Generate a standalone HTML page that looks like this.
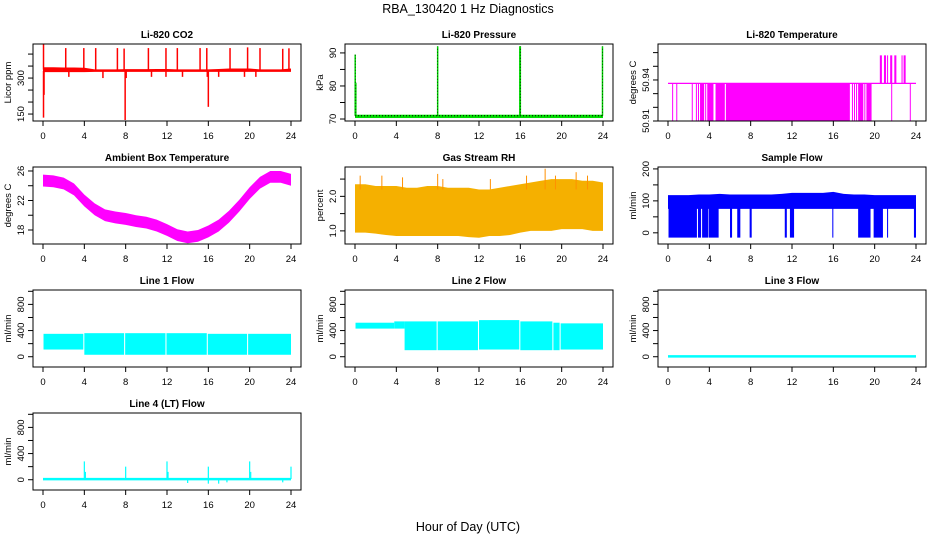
<!DOCTYPE html>
<html><head><meta charset="utf-8"><style>
html,body{margin:0;padding:0;background:#fff;}
svg{display:block;font-family:"Liberation Sans",sans-serif;}
</style></head><body>
<svg id="c" width="936" height="540" viewBox="0 0 936 540">
<text x="468" y="13" text-anchor="middle" font-size="12.5">RBA_130420  1 Hz Diagnostics</text>
<text x="468" y="531" text-anchor="middle" font-size="12.5">Hour of Day (UTC)</text>
</svg>
<script>
// ---------- data ----------
const hours = [0,1,2,3,4,5,6,7,8,9,10,11,12,13,14,15,16,17,18,19,20,21,22,23,24];
const xTicks = [0,4,8,12,16,20,24];
// CO2
const co2Low  = [325,325,325,325,325,326,326,326,326,326,326,326,326,326,326,326,326,326,326,326,326,326,326,326,326];
const co2High = [345,345,344,344,343,336,336,336,337,337,337,338,338,336,336,336,336,338,340,340,340,336,336,336,340];
const co2SpikeHours = [0.05,2.2,3.95,5.1,7.2,7.85,10.2,11.9,13.0,15.2,15.85,18.1,19.8,21.0,23.2,23.8];
const co2SpikeVals  = [440,425,425,425,425,423,425,425,425,425,425,425,428,425,422,424];
const co2DownHours = [0.05,0.1,2.5,5.8,7.95,8.05,10.5,11.9,13.5,15.9,16.0,17.0,19.5,20.6];
const co2DownVals  = [135,230,305,300,125,300,305,305,305,305,180,305,305,305];
// Pressure
const presBase = 71.0;
const presSpikeHours = [0.02,0.08,8.0,15.95,16.0,23.95];
const presSpikeVals  = [89.5,81,92,92,92,92];
// Li-820 temperature
const tempBase = 50.9375;
const tempLowVal = 50.91;
const tempHighVal = 50.958;
const tempDownStart = [0.4,0.8,2.3,2.7,2.9,3.1,3.6,3.8,4.6,5.6,17.8,18.0,18.2,18.4,19.0,19.2,21.6,23.4];
const tempDownEnd   = [0.45,0.85,2.35,2.75,3.0,3.5,3.65,4.4,5.5,17.6,17.85,18.05,18.25,18.9,19.05,19.7,21.65,23.45];
const tempUpStart = [20.5,20.9,21.2,21.5,21.9,22.6,22.8];
const tempUpEnd   = [20.7,21.1,21.3,21.7,22.1,22.7,23.0];
// Ambient box temperature (centre of band)
const ambCenter = [24.7,24.6,24.3,23.5,22.0,20.8,20.0,19.7,19.5,19.2,19.0,18.6,18.0,17.3,17.0,17.2,17.8,18.6,19.8,21.3,23.0,24.4,25.2,25.2,24.8];
const ambHalf = 0.8;
// Gas stream RH
const rhLow  = [0.95,0.95,0.92,0.88,0.85,0.85,0.85,0.85,0.85,0.85,0.85,0.82,0.80,0.85,0.85,0.88,0.95,1.00,1.00,1.00,1.05,1.05,1.05,1.00,1.00];
const rhHigh = [2.35,2.35,2.30,2.30,2.30,2.25,2.25,2.30,2.30,2.25,2.25,2.25,2.20,2.20,2.25,2.30,2.35,2.40,2.45,2.50,2.50,2.50,2.45,2.45,2.40];
const rhSpikeHours = [0.5,2.6,4.6,8.0,8.5,13.1,16.6,18.4,19.4,21.4,22.5];
const rhSpikeVals  = [2.6,2.6,2.55,2.65,2.5,2.5,2.6,2.8,2.6,2.7,2.6];
// Sample flow
const sfLow  = [75,75,75,75,75,75,75,75,75,75,75,75,75,75,75,75,75,75,75,75,75,75,75,75,75];
const sfHigh = [118,118,118,120,120,122,120,120,120,120,120,122,125,125,125,125,128,122,120,120,118,118,118,118,118];
const sfDropStart = [0.05,2.9,3.3,3.95,6.0,6.7,7.9,11.3,11.8,15.9,18.4,19.9,21.2,23.8];
const sfDropEnd   = [2.8,3.2,3.9,4.9,6.2,7.0,8.1,11.5,12.2,16.0,19.6,20.8,21.3,24.0];
const sfDropVal = -15;
// Line 1 flow
const l1Start = [0.05,4.0,7.95,11.95,15.95,19.85];
const l1End   = [3.9,7.85,11.85,15.85,19.75,24.0];
const l1Low   = [110,30,30,30,30,30];
const l1High  = [350,360,360,360,350,350];
// Line 2 flow
const l2Start = [0.05,3.8,4.8,8.0,12.0,16.0,19.2,19.9];
const l2End   = [3.8,4.8,7.9,11.9,15.9,19.1,19.8,24.0];
const l2Low   = [430,430,100,100,110,100,100,110];
const l2High  = [520,540,540,540,560,540,520,510];
// Line 3 flow
const l3Base = 5;
// Line 4 flow
const l4Base = 10;
const l4SpikeHours = [4.0,4.1,8.0,12.0,12.1,16.0,20.0,20.1,24.0];
const l4SpikeVals  = [280,120,200,280,120,200,280,120,200];
const l4DownHours = [14.0,16.0,17.0,17.8,23.2];
const l4DownVals  = [-50,-60,-60,-40,-40];

// ---------- layout ----------
const NS = "http://www.w3.org/2000/svg";
const svg = document.getElementById('c');
const colLeft = [33,345,658];
const rowTop = [44,167,290,413];
const boxW = 268, boxH = 77;
function mk(tag, attrs, parent){
  const e = document.createElementNS(NS, tag);
  for (const k in attrs) e.setAttribute(k, attrs[k]);
  (parent||svg).appendChild(e);
  return e;
}
function panel(name, title, ylab, col, row, ymin, ymax, yticks, ylabels){
  const L = colLeft[col], T = rowTop[row];
  const g = mk('g', {});
  
  
  const xs = h => L + 10 + h * (boxW - 20) / 24;
  const ys = v => T + boxH - (v - ymin) / (ymax - ymin) * boxH;
  const marks = mk('g', {}, g);
  const cid = 'clip-' + name;
  const cp = mk('clipPath', {id:cid}, g);
  mk('rect', {x:L, y:T, width:boxW, height:boxH}, cp);
  marks.setAttribute('clip-path', 'url(#' + cid + ')');
  
  
  const fr = mk('rect', {x:L, y:T, width:boxW, height:boxH, fill:'none', stroke:'#000', 'stroke-width':1}, g);
  
  
  const tt = mk('text', {x:L + boxW/2, y:T - 6, 'text-anchor':'middle', 'font-size':10, 'font-weight':'bold'}, g);
  tt.textContent = title;
  
  
  const xa = mk('g', {}, g);
  
  
  mk('line', {x1:xs(0), x2:xs(24), y1:T+boxH, y2:T+boxH, stroke:'#000'}, xa);
  xTicks.forEach(t => {
    mk('line', {x1:xs(t), x2:xs(t), y1:T+boxH, y2:T+boxH+5, stroke:'#000'}, xa);
    const tx = mk('text', {x:xs(t), y:T+boxH+18, 'text-anchor':'middle', 'font-size':9.5}, xa);
    tx.textContent = t;
    
    
  });
  const ya = mk('g', {}, g);
  
  
  mk('line', {x1:L, x2:L, y1:ys(yticks[0]), y2:ys(yticks[yticks.length-1]), stroke:'#000'}, ya);
  yticks.forEach(t => {
    mk('line', {x1:L-5, x2:L, y1:ys(t), y2:ys(t), stroke:'#000'}, ya);
  });
  ylabels.forEach(t => {
    const tx = mk('text', {x:0, y:0, 'text-anchor':'middle', 'font-size':9.5, transform:'translate(' + (L-9) + ',' + ys(t) + ') rotate(-90)'}, ya);
    tx.textContent = t;
    
    
  });
  const yl = mk('text', {x:0, y:0, 'text-anchor':'middle', 'font-size':9.5, transform:'translate(' + (L-22) + ',' + (T+boxH/2) + ') rotate(-90)'}, g);
  yl.textContent = ylab;
  
  
  return {marks, xs, ys};
}
function vline(p, h, v1, v2, color, w){
  return mk('line', {x1:p.xs(h), x2:p.xs(h), y1:p.ys(v1), y2:p.ys(v2), stroke:color, 'stroke-width':w||1}, p.marks);
}
function band(p, lows, highs, color){
  let d = '';
  hours.forEach((h,i) => { d += (i ? 'L' : 'M') + p.xs(h) + ' ' + p.ys(highs[i]); });
  for (let i = hours.length-1; i >= 0; i--) d += 'L' + p.xs(hours[i]) + ' ' + p.ys(lows[i]);
  return mk('path', {d:d + 'Z', fill:color}, p.marks);
}
function blocks(p, starts, ends, lows, highs, color){
  starts.forEach((s,i) => {
    const lo = Array.isArray(lows) ? lows[i] : lows, hi = Array.isArray(highs) ? highs[i] : highs;
    mk('rect', {x:p.xs(s), y:p.ys(hi), width:Math.max(1, p.xs(ends[i]) - p.xs(s)), height:p.ys(lo) - p.ys(hi), fill:color}, p.marks);
  });
}

// ---------- panels ----------
let p = panel('co2-panel', 'Li-820 CO2', 'Licor ppm', 0, 0, 121, 442, [150,200,250,300,350,400], [150,300]);
band(p, co2Low, co2High, '#ff0000');
co2SpikeHours.forEach((h,i) => vline(p, h, 335, co2SpikeVals[i], '#ff0000', 1.5));
co2DownHours.forEach((h,i) => vline(p, h, 330, co2DownVals[i], '#ff0000', 1.5));

p = panel('pressure-panel', 'Li-820 Pressure', 'kPa', 1, 0, 69.4, 92.7, [70,75,80,85,90], [70,80,90]);
mk('rect', {x:p.xs(0), y:p.ys(presBase+0.3), width:p.xs(24)-p.xs(0), height:p.ys(presBase-0.7)-p.ys(presBase+0.3), fill:'#00dd00'}, p.marks);
mk('line', {x1:p.xs(0), x2:p.xs(24), y1:p.ys(presBase), y2:p.ys(presBase), stroke:'#000', 'stroke-dasharray':'1 2'}, p.marks);
presSpikeHours.forEach((h,i) => {
  vline(p, h, presBase, presSpikeVals[i], '#00dd00', 1.5);
  mk('line', {x1:p.xs(h), x2:p.xs(h), y1:p.ys(presBase), y2:p.ys(presSpikeVals[i]), stroke:'#000', 'stroke-width':0.7, 'stroke-dasharray':'1 2'}, p.marks);
});

p = panel('temperature-panel', 'Li-820 Temperature', 'degrees C', 2, 0, 50.91, 50.9663, [50.91,50.92,50.93,50.94,50.95,50.96], ['50.91','50.94']);
blocks(p, tempDownStart, tempDownEnd, tempLowVal, tempBase, '#ff00ff');
blocks(p, tempUpStart, tempUpEnd, tempBase, tempHighVal, '#ff00ff');
mk('line', {x1:p.xs(0), x2:p.xs(24), y1:p.ys(tempBase), y2:p.ys(tempBase), stroke:'#ff00ff', 'stroke-width':1.2}, p.marks);

p = panel('ambient-temp-panel', 'Ambient Box Temperature', 'degrees C', 0, 1, 16.1, 26.54, [18,20,22,24,26], [18,22,26]);
band(p, ambCenter.map(v => v - ambHalf), ambCenter.map(v => v + ambHalf), '#ff00ff');

p = panel('gas-rh-panel', 'Gas Stream RH', 'percent', 1, 1, 0.62, 2.85, [1.0,1.5,2.0,2.5], ['1.0','2.0']);
band(p, rhLow, rhHigh, '#f5b000');
rhSpikeHours.forEach((h,i) => vline(p, h, 2.2, rhSpikeVals[i], '#ff9000', 1));

p = panel('sample-flow-panel', 'Sample Flow', 'ml/min', 2, 1, -35, 206, [0,50,100,150,200], [0,100,200]);
band(p, sfLow, sfHigh, '#0000ff');
blocks(p, sfDropStart, sfDropEnd, sfDropVal, 80, '#0000ff');

const flowTicks = [0,200,400,600,800,1000];
p = panel('line1-flow-panel', 'Line 1 Flow', 'ml/min', 0, 2, -157, 1020, flowTicks, [0,400,800]);
blocks(p, l1Start, l1End, l1Low, l1High, '#00ffff');

p = panel('line2-flow-panel', 'Line 2 Flow', 'ml/min', 1, 2, -157, 1020, flowTicks, [0,400,800]);
blocks(p, l2Start, l2End, l2Low, l2High, '#00ffff');

p = panel('line3-flow-panel', 'Line 3 Flow', 'ml/min', 2, 2, -157, 1020, flowTicks, [0,400,800]);
mk('line', {x1:p.xs(0), x2:p.xs(24), y1:p.ys(l3Base), y2:p.ys(l3Base), stroke:'#00ffff', 'stroke-width':2.5}, p.marks);

p = panel('line4-flow-panel', 'Line 4 (LT) Flow', 'ml/min', 0, 3, -157, 1020, flowTicks, [0,400,800]);
mk('line', {x1:p.xs(0), x2:p.xs(24), y1:p.ys(l4Base), y2:p.ys(l4Base), stroke:'#00ffff', 'stroke-width':2.5}, p.marks);
l4SpikeHours.forEach((h,i) => vline(p, h, l4Base, l4SpikeVals[i], '#00ffff', 1.2));
l4DownHours.forEach((h,i) => vline(p, h, l4Base, l4DownVals[i], '#00ffff', 1.2));
</script>
</body></html>
